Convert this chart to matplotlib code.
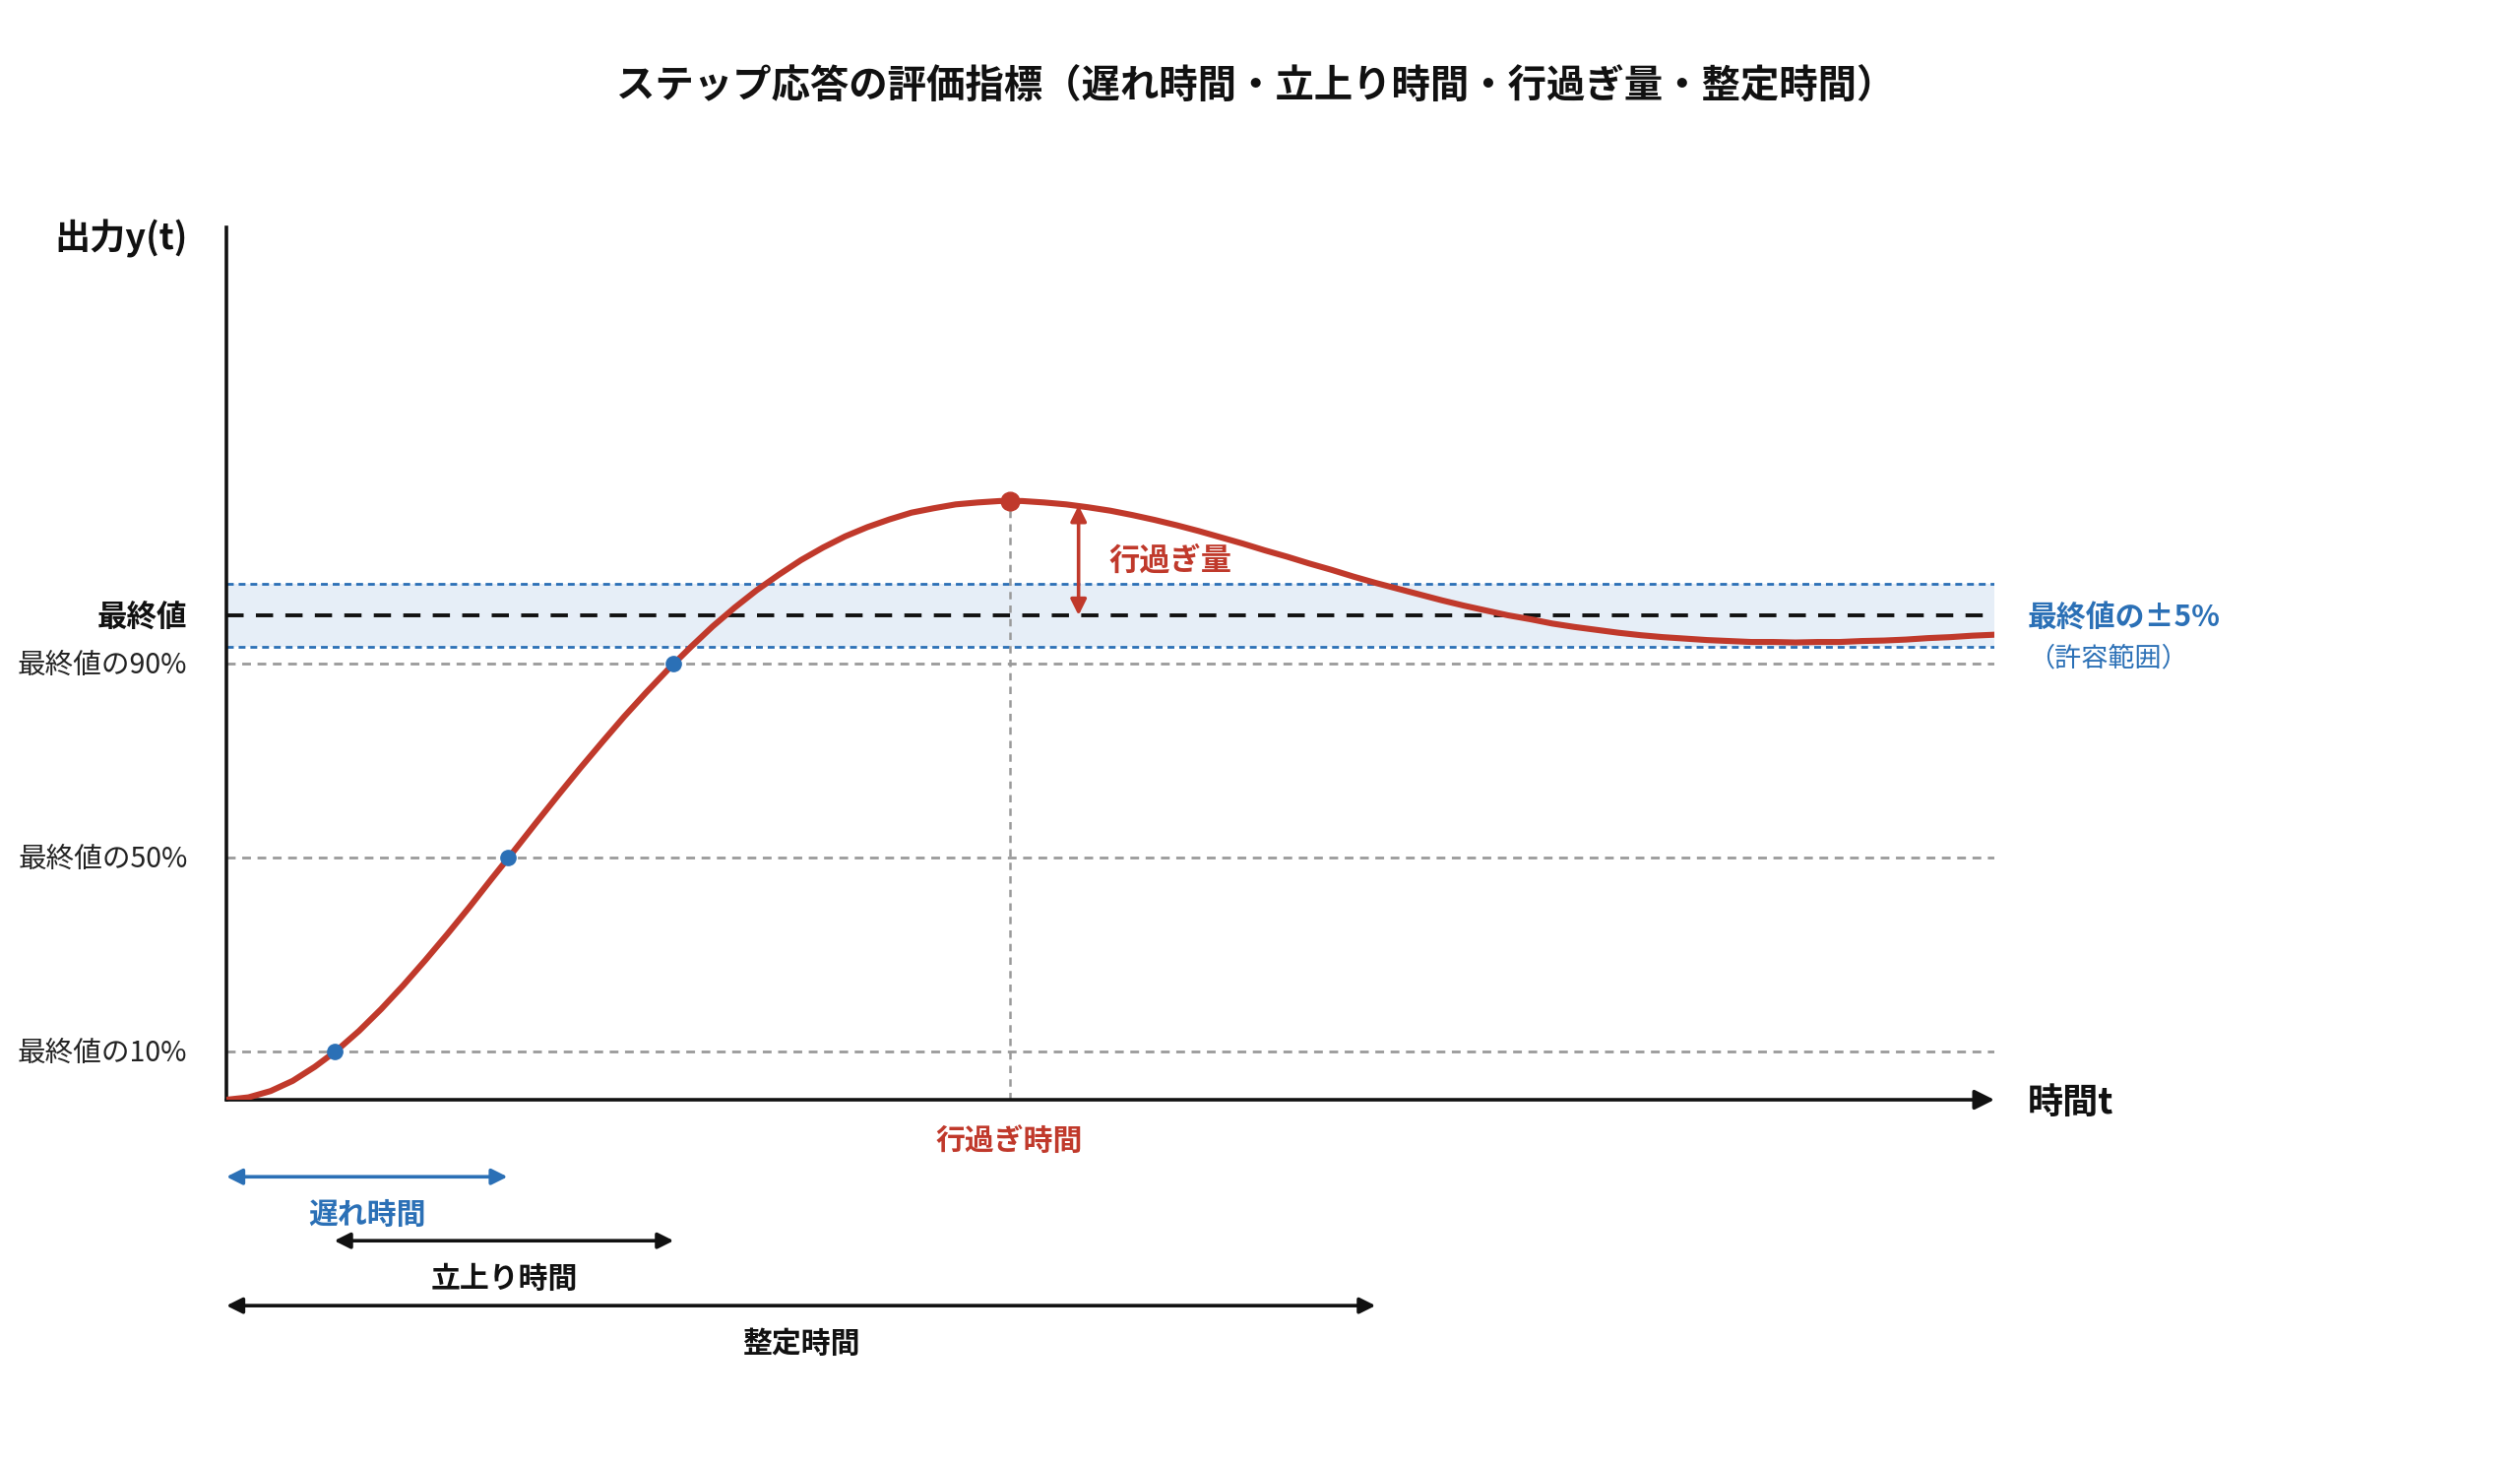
import matplotlib
matplotlib.use('Agg')
import matplotlib.pyplot as plt

plt.rcParams['font.family'] = ['Noto Sans CJK JP', 'DejaVu Sans']

# step response (time, output)
t_vals = [0, 0.125, 0.25, 0.375, 0.5, 0.625, 0.75, 0.875, 1.0, 1.125, 1.25, 1.375,
          1.5, 1.625, 1.75, 1.875, 2.0, 2.125, 2.25, 2.375, 2.5, 2.625, 2.75, 2.875,
          3.0, 3.125, 3.25, 3.375, 3.5, 3.625, 3.75, 3.875, 4.0, 4.125, 4.25, 4.375,
          4.5, 4.625, 4.75, 4.875, 5.0, 5.125, 5.25, 5.375, 5.5, 5.625, 5.75, 5.875,
          6.0, 6.125, 6.25, 6.375, 6.5, 6.625, 6.75, 6.875, 7.0, 7.125, 7.25, 7.375,
          7.5, 7.625, 7.75, 7.875, 8.0, 8.125, 8.25, 8.375, 8.5, 8.625, 8.75, 8.875,
          9.0, 9.125, 9.25, 9.375, 9.5, 9.625, 9.75, 9.875, 10.0]
y_vals = [0, 0.005, 0.018, 0.039, 0.068, 0.102, 0.142, 0.187, 0.236, 0.288, 0.342, 0.398,
          0.456, 0.513, 0.571, 0.628, 0.684, 0.738, 0.791, 0.841, 0.889, 0.934, 0.977, 1.016,
          1.052, 1.084, 1.114, 1.140, 1.163, 1.182, 1.198, 1.212, 1.221, 1.229, 1.233, 1.236,
          1.236, 1.233, 1.229, 1.223, 1.216, 1.207, 1.197, 1.186, 1.174, 1.161, 1.148, 1.134,
          1.121, 1.107, 1.094, 1.080, 1.067, 1.055, 1.043, 1.031, 1.020, 1.010, 1.000, 0.992,
          0.983, 0.976, 0.970, 0.964, 0.959, 0.955, 0.952, 0.949, 0.947, 0.945, 0.945, 0.944,
          0.945, 0.945, 0.947, 0.948, 0.950, 0.953, 0.955, 0.958, 0.960]

final_value = 1.0
band_lo, band_hi = 0.935, 1.065
level_vals = [0.9, 0.5, 0.1]
level_labels = ['最終値の90%', '最終値の50%', '最終値の10%']
cross_t = [2.53, 1.59, 0.61]  # times at 90 / 50 / 10 %
peak_t, peak_y = 4.43, 1.236
settle_t = 6.5
t_end = 10.0
y_top = 1.8

RED = '#c0392b'
BLUE = '#2b70b6'
GRAY = '#9a9a9a'
BLACK = '#111111'

dy = -0.006  # small nudge so CJK labels sit on their lines

fig = plt.figure(figsize=(25.6, 14.87), dpi=100)
ax = fig.add_axes([230 / 2560, 0.2488, 1796 / 2560, 0.5956])
ax.set_xlim(0, t_end)
ax.set_ylim(0, y_top)
ax.axis('off')

# tolerance band
ax.fill_between([0, t_end], band_lo, band_hi, color='#e6eef7', lw=0, zorder=1)
for yb in (band_lo, band_hi):
    ax.plot([0, t_end], [yb, yb], color=BLUE, lw=2, ls=(0, (2.5, 1.8)), zorder=2)

# reference levels
for yl in level_vals:
    ax.plot([0, t_end], [yl, yl], color=GRAY, lw=2, ls=(0, (3.2, 2.4)), zorder=2)
ax.plot([0, t_end], [final_value, final_value], color=BLACK, lw=2.8,
        ls=(0, (4.5, 3.2)), zorder=3)
ax.plot([peak_t, peak_t], [0, peak_y], color=GRAY, lw=1.8, ls=(0, (3, 2.5)), zorder=2)

# response
ax.plot(t_vals, y_vals, color=RED, lw=4.4, solid_capstyle='round',
        solid_joinstyle='round', zorder=5)
ax.plot(cross_t, level_vals, 'o', color=BLUE, ms=11, zorder=6)
ax.plot([peak_t], [peak_y], 'o', color=RED, ms=13.5, zorder=6)

# axes
ax.plot([0, 0], [0, y_top], color=BLACK, lw=2.6, clip_on=False, zorder=4)
ax.annotate('', xy=(t_end, 0), xytext=(0, 0), annotation_clip=False,
            arrowprops=dict(arrowstyle='-|>', color=BLACK, lw=2.6,
                            mutation_scale=30, shrinkA=0, shrinkB=0), zorder=4)

# y side labels
ax.text(-0.22, 1.783 + dy, '出力y(t)', ha='right', va='center', fontsize=26,
        fontweight='bold', color=BLACK)
ax.text(-0.22, final_value + dy, '最終値', ha='right', va='center', fontsize=22,
        fontweight='bold', color=BLACK)
for yl, lab in zip(level_vals, level_labels):
    ax.text(-0.22, yl + dy, lab, ha='right', va='center', fontsize=20.6, color='#222222')

ax.text(10.19, 0 + dy, '時間t', ha='left', va='center', fontsize=26,
        fontweight='bold', color=BLACK)
ax.text(10.19, 1.002 + dy, '最終値の±5%', ha='left', va='center', fontsize=21.5,
        fontweight='bold', color=BLUE)
ax.text(10.19, 0.917 + dy, '（許容範囲）', ha='left', va='center', fontsize=19.5, color=BLUE)

# overshoot
os_t = 4.82
ax.annotate('', xy=(os_t, 1.227), xytext=(os_t, final_value),
            arrowprops=dict(arrowstyle='<|-|>', color=RED, lw=2.6,
                            mutation_scale=24, shrinkA=0, shrinkB=0), zorder=6)
ax.text(4.99, 1.118 + dy, '行過ぎ量', ha='left', va='center', fontsize=22.5,
        fontweight='bold', color=RED)
ax.text(peak_t, -0.079 + dy, '行過ぎ時間', ha='center', va='center', fontsize=21.5,
        fontweight='bold', color=RED)

# time intervals below the axis
intervals = [
    ('遅れ時間', 0, cross_t[1], -0.159, BLUE),
    ('立上り時間', cross_t[2], cross_t[0], -0.291, BLACK),
    ('整定時間', 0, settle_t, -0.425, BLACK),
]
for lab, t0, t1, ya, col in intervals:
    ax.annotate('', xy=(t1, ya), xytext=(t0, ya), annotation_clip=False,
                arrowprops=dict(arrowstyle='<|-|>', color=col, lw=2.6,
                                mutation_scale=24, shrinkA=0, shrinkB=0))
    ax.text((t0 + t1) / 2, ya - 0.073 + dy, lab, ha='center', va='center',
            fontsize=21.5, fontweight='bold', color=col)

fig.text(0.4985, 0.941, 'ステップ応答の評価指標（遅れ時間・立上り時間・行過ぎ量・整定時間）',
         ha='center', va='center', fontsize=28.4, fontweight='bold', color=BLACK)

fig.savefig('out.png', dpi=100, facecolor='white')
